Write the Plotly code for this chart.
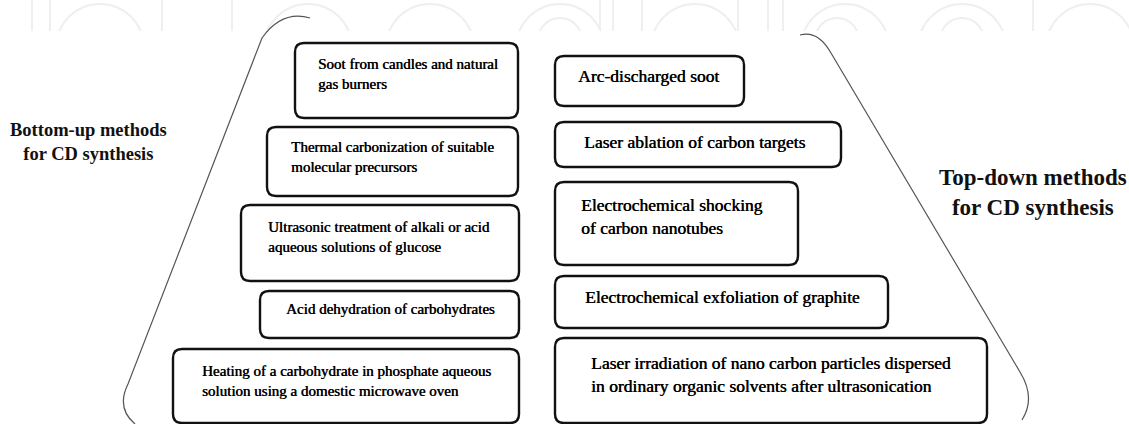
import plotly.graph_objects as go

W, H = 1129, 424

# ---- content ----
left_texts = [
    "Soot from candles and natural<br>gas burners",
    "Thermal carbonization of suitable<br>molecular precursors",
    "Ultrasonic treatment of alkali or acid<br>aqueous solutions of glucose",
    "Acid dehydration of carbohydrates",
    "Heating of a carbohydrate in phosphate aqueous<br>solution using a domestic microwave oven",
]
right_texts = [
    "Arc-discharged soot",
    "Laser ablation of carbon targets",
    "Electrochemical shocking<br>of carbon nanotubes",
    "Electrochemical exfoliation of graphite",
    "Laser irradiation of nano carbon particles dispersed<br>in ordinary organic solvents after ultrasonication",
]
left_label = "Bottom-up methods<br>for CD synthesis"
right_label = "Top-down methods<br>for CD synthesis"

# ---- layout (pixel positions) ----
left_boxes = [(295, 43, 518, 118), (267, 127, 518, 196), (241, 205, 519, 281),
              (260, 291, 519, 338), (173, 349, 519, 423)]
left_text_pos = [(316, 74, "left"), (289, 157, "left"), (266, 236.5, "left"),
                 (390, 309, "center"), (200, 381, "left")]
right_boxes = [(555, 56, 744, 106), (555, 122, 841, 167), (555, 182, 798, 265),
               (555, 276, 888, 328), (555, 338, 987, 423)]
right_text_pos = [(648, 76, "center"), (582, 142, "left"), (579, 216.5, "left"),
                  (722, 297, "center"), (589, 374.5, "left")]

# faint watermark at the top
wm_big = [100, 308, 430, 560, 695, 845, 962, 1090]
wm_small = [560, 837, 962]
wm_vlines = [32, 50, 162, 232, 600, 613, 642, 738, 768, 783, 1033]


def rr(x0, y0, x1, y1, r=9):
    return (f"M{x0+r},{y0} L{x1-r},{y0} Q{x1},{y0} {x1},{y0+r} "
            f"L{x1},{y1-r} Q{x1},{y1} {x1-r},{y1} L{x0+r},{y1} "
            f"Q{x0},{y1} {x0},{y1-r} L{x0},{y0+r} Q{x0},{y0} {x0+r},{y0} Z")


shapes = []
wm_col = "#efefef"
for cx in wm_big:
    shapes.append(dict(type="circle", xref="x", yref="y", x0=cx - 44, x1=cx + 44,
                       y0=48 - 44, y1=48 + 44, line=dict(color=wm_col, width=2)))
for cx in wm_small:
    shapes.append(dict(type="circle", xref="x", yref="y", x0=cx - 22, x1=cx + 22,
                       y0=40 - 22, y1=40 + 22, line=dict(color=wm_col, width=2)))
for vx in wm_vlines:
    shapes.append(dict(type="line", xref="x", yref="y", x0=vx, x1=vx, y0=0, y1=31,
                       line=dict(color=wm_col, width=2)))
# cover watermark below strip
shapes.append(dict(type="rect", xref="x", yref="y", x0=-5, x1=W + 5, y0=31, y1=H + 5,
                   fillcolor="white", line=dict(width=0)))

# outline curves
shapes.append(dict(type="path", xref="x", yref="y",
                   path="M310,18 Q282,10 262,38 L128,384 Q116,408 135,424",
                   line=dict(color="#555555", width=1.2)))
shapes.append(dict(type="path", xref="x", yref="y",
                   path="M800,35 Q818,30 831,53 L1020,372 Q1036,398 1022,420",
                   line=dict(color="#555555", width=1.2)))

for b in left_boxes + right_boxes:
    shapes.append(dict(type="path", xref="x", yref="y", path=rr(*b),
                       fillcolor="white", line=dict(color="#111111", width=2.4)))

annotations = []
serif = "Liberation Serif"
shadow = "0.5px 0px 0px #000000"
for t, (x, y, al) in zip(left_texts, left_text_pos):
    annotations.append(dict(x=x, y=y, xref="x", yref="y", text=t, showarrow=False,
                            xanchor=al, yanchor="middle", align=al,
                            font=dict(family=serif, size=15, color="#000000", shadow=shadow)))
for t, (x, y, al) in zip(right_texts, right_text_pos):
    annotations.append(dict(x=x, y=y, xref="x", yref="y", text=t, showarrow=False,
                            xanchor=al, yanchor="middle", align=al,
                            font=dict(family=serif, size=17.5, color="#000000", shadow=shadow)))


def bold(s):
    return "<br>".join("<b>" + p + "</b>" for p in s.split("<br>"))


annotations.append(dict(x=88, y=141.5, xref="x", yref="y", text=bold(left_label),
                        showarrow=False, xanchor="center", yanchor="middle", align="center",
                        font=dict(family=serif, size=18.5, color="#111111")))
annotations.append(dict(x=1033, y=192.5, xref="x", yref="y", text=bold(right_label),
                        showarrow=False, xanchor="center", yanchor="middle", align="center",
                        font=dict(family=serif, size=23, color="#111111")))

fig = go.Figure()
fig.update_layout(
    width=W, height=H, margin=dict(l=0, r=0, t=0, b=0),
    paper_bgcolor="white", plot_bgcolor="white",
    xaxis=dict(range=[0, W], visible=False, fixedrange=True),
    yaxis=dict(range=[H, 0], visible=False, fixedrange=True),
    shapes=shapes, annotations=annotations, showlegend=False,
)
fig.write_html("out.html", config={"displayModeBar": False},
               post_script="document.body.style.margin='0';document.body.style.overflow='hidden';")
